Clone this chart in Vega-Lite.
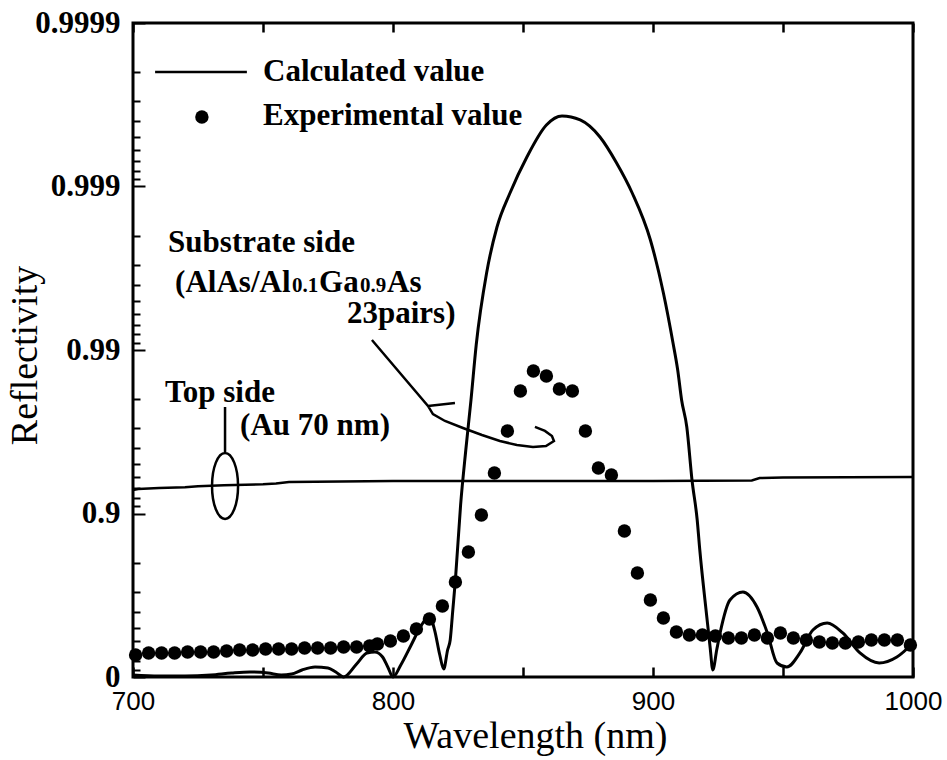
{
  "$schema": "https://vega.github.io/schema/vega-lite/v6.json",
  "width": 780,
  "height": 654,
  "autosize": {"type": "none"},
  "padding": {"left": 133, "top": 23, "right": 34, "bottom": 83},
  "background": "white",
  "config": {
    "view": {"stroke": "black", "strokeWidth": 3},
    "text": {"color": "black"}
  },
  "datasets": {
    "topSide": [
      {"wavelength": 700, "oneMinusR": 0.0718},
      {"wavelength": 702, "oneMinusR": 0.0709},
      {"wavelength": 710, "oneMinusR": 0.0699},
      {"wavelength": 720, "oneMinusR": 0.0690},
      {"wavelength": 725, "oneMinusR": 0.0681},
      {"wavelength": 735, "oneMinusR": 0.0672},
      {"wavelength": 750, "oneMinusR": 0.0663},
      {"wavelength": 755, "oneMinusR": 0.0655},
      {"wavelength": 760, "oneMinusR": 0.0641},
      {"wavelength": 800, "oneMinusR": 0.0632},
      {"wavelength": 850, "oneMinusR": 0.0632},
      {"wavelength": 900, "oneMinusR": 0.0632},
      {"wavelength": 938, "oneMinusR": 0.0628},
      {"wavelength": 941, "oneMinusR": 0.0607},
      {"wavelength": 950, "oneMinusR": 0.0603},
      {"wavelength": 1000, "oneMinusR": 0.0599}
    ],
    "calculated": [
      {"wavelength": 700, "oneMinusR": 0.9722},
      {"wavelength": 710, "oneMinusR": 0.986},
      {"wavelength": 720, "oneMinusR": 0.986},
      {"wavelength": 730, "oneMinusR": 0.9722},
      {"wavelength": 738, "oneMinusR": 0.9453},
      {"wavelength": 745, "oneMinusR": 0.932},
      {"wavelength": 752, "oneMinusR": 0.9453},
      {"wavelength": 757, "oneMinusR": 0.9722},
      {"wavelength": 761, "oneMinusR": 0.9586},
      {"wavelength": 765, "oneMinusR": 0.9061},
      {"wavelength": 770, "oneMinusR": 0.8687},
      {"wavelength": 775, "oneMinusR": 0.8808},
      {"wavelength": 778, "oneMinusR": 0.932},
      {"wavelength": 781, "oneMinusR": 1},
      {"wavelength": 786, "oneMinusR": 0.8326},
      {"wavelength": 790, "oneMinusR": 0.713},
      {"wavelength": 793, "oneMinusR": 0.7031},
      {"wavelength": 796, "oneMinusR": 0.7545},
      {"wavelength": 798, "oneMinusR": 0.8687},
      {"wavelength": 800, "oneMinusR": 1},
      {"wavelength": 803, "oneMinusR": 0.8445},
      {"wavelength": 807, "oneMinusR": 0.637},
      {"wavelength": 811, "oneMinusR": 0.4808},
      {"wavelength": 814, "oneMinusR": 0.4234},
      {"wavelength": 816, "oneMinusR": 0.516},
      {"wavelength": 818, "oneMinusR": 0.7334},
      {"wavelength": 819.5, "oneMinusR": 0.8935},
      {"wavelength": 821, "oneMinusR": 0.6836},
      {"wavelength": 822, "oneMinusR": 0.5937},
      {"wavelength": 823, "oneMinusR": 0.3893},
      {"wavelength": 824, "oneMinusR": 0.2551},
      {"wavelength": 826, "oneMinusR": 0.0887},
      {"wavelength": 828, "oneMinusR": 0.04089},
      {"wavelength": 830, "oneMinusR": 0.02021},
      {"wavelength": 832, "oneMinusR": 0.00932},
      {"wavelength": 836, "oneMinusR": 0.003381},
      {"wavelength": 840, "oneMinusR": 0.001769},
      {"wavelength": 845, "oneMinusR": 0.001096},
      {"wavelength": 851.5, "oneMinusR": 0.00066},
      {"wavelength": 859, "oneMinusR": 0.0004205},
      {"wavelength": 865, "oneMinusR": 0.0003704},
      {"wavelength": 872, "oneMinusR": 0.0003919},
      {"wavelength": 879.6, "oneMinusR": 0.0004981},
      {"wavelength": 886, "oneMinusR": 0.0007183},
      {"wavelength": 892, "oneMinusR": 0.001096},
      {"wavelength": 899, "oneMinusR": 0.002125},
      {"wavelength": 904, "oneMinusR": 0.004481},
      {"wavelength": 907.7, "oneMinusR": 0.009062},
      {"wavelength": 909.5, "oneMinusR": 0.01326},
      {"wavelength": 911, "oneMinusR": 0.02021},
      {"wavelength": 913, "oneMinusR": 0.02958},
      {"wavelength": 915, "oneMinusR": 0.06239},
      {"wavelength": 917, "oneMinusR": 0.1096},
      {"wavelength": 918, "oneMinusR": 0.1672},
      {"wavelength": 920.7, "oneMinusR": 0.4295},
      {"wavelength": 922, "oneMinusR": 0.6646},
      {"wavelength": 923, "oneMinusR": 0.9061},
      {"wavelength": 924.5, "oneMinusR": 0.6836},
      {"wavelength": 925.8, "oneMinusR": 0.538},
      {"wavelength": 929.6, "oneMinusR": 0.3381},
      {"wavelength": 934.6, "oneMinusR": 0.302},
      {"wavelength": 940, "oneMinusR": 0.3732},
      {"wavelength": 944, "oneMinusR": 0.538},
      {"wavelength": 947.7, "oneMinusR": 0.8212},
      {"wavelength": 951.5, "oneMinusR": 0.8687},
      {"wavelength": 956.5, "oneMinusR": 0.713},
      {"wavelength": 961.5, "oneMinusR": 0.516},
      {"wavelength": 967, "oneMinusR": 0.4674},
      {"wavelength": 973, "oneMinusR": 0.538},
      {"wavelength": 979.6, "oneMinusR": 0.713},
      {"wavelength": 987, "oneMinusR": 0.8212},
      {"wavelength": 993.8, "oneMinusR": 0.7545},
      {"wavelength": 1000, "oneMinusR": 0.6195}
    ],
    "experimental": [
      {"wavelength": 701, "oneMinusR": 0.7334},
      {"wavelength": 706, "oneMinusR": 0.713},
      {"wavelength": 711, "oneMinusR": 0.713},
      {"wavelength": 716, "oneMinusR": 0.713},
      {"wavelength": 721, "oneMinusR": 0.7031},
      {"wavelength": 726, "oneMinusR": 0.7031},
      {"wavelength": 731, "oneMinusR": 0.7031},
      {"wavelength": 736, "oneMinusR": 0.6933},
      {"wavelength": 741, "oneMinusR": 0.6836},
      {"wavelength": 746, "oneMinusR": 0.6836},
      {"wavelength": 751, "oneMinusR": 0.674},
      {"wavelength": 756, "oneMinusR": 0.674},
      {"wavelength": 761, "oneMinusR": 0.674},
      {"wavelength": 766, "oneMinusR": 0.6646},
      {"wavelength": 771, "oneMinusR": 0.6646},
      {"wavelength": 776, "oneMinusR": 0.6646},
      {"wavelength": 781, "oneMinusR": 0.6553},
      {"wavelength": 786, "oneMinusR": 0.6553},
      {"wavelength": 791, "oneMinusR": 0.6461},
      {"wavelength": 794, "oneMinusR": 0.6283},
      {"wavelength": 799, "oneMinusR": 0.6024},
      {"wavelength": 804, "oneMinusR": 0.5614},
      {"wavelength": 809, "oneMinusR": 0.5087},
      {"wavelength": 814, "oneMinusR": 0.4417},
      {"wavelength": 819, "oneMinusR": 0.3678},
      {"wavelength": 824, "oneMinusR": 0.2624},
      {"wavelength": 829, "oneMinusR": 0.172},
      {"wavelength": 834, "oneMinusR": 0.1021},
      {"wavelength": 839, "oneMinusR": 0.05652},
      {"wavelength": 844, "oneMinusR": 0.03129},
      {"wavelength": 849, "oneMinusR": 0.01781},
      {"wavelength": 854, "oneMinusR": 0.01344},
      {"wavelength": 859, "oneMinusR": 0.01442},
      {"wavelength": 864, "oneMinusR": 0.01732},
      {"wavelength": 869, "oneMinusR": 0.01781},
      {"wavelength": 874, "oneMinusR": 0.03129},
      {"wavelength": 879, "oneMinusR": 0.05267},
      {"wavelength": 884, "oneMinusR": 0.05814},
      {"wavelength": 889, "oneMinusR": 0.1279},
      {"wavelength": 894, "oneMinusR": 0.2311},
      {"wavelength": 899, "oneMinusR": 0.3381},
      {"wavelength": 904, "oneMinusR": 0.4357},
      {"wavelength": 909, "oneMinusR": 0.5305},
      {"wavelength": 914, "oneMinusR": 0.5533},
      {"wavelength": 919, "oneMinusR": 0.5533},
      {"wavelength": 924, "oneMinusR": 0.5614},
      {"wavelength": 929, "oneMinusR": 0.5772},
      {"wavelength": 934, "oneMinusR": 0.5772},
      {"wavelength": 939, "oneMinusR": 0.5533},
      {"wavelength": 944, "oneMinusR": 0.5772},
      {"wavelength": 949, "oneMinusR": 0.538},
      {"wavelength": 954, "oneMinusR": 0.5772},
      {"wavelength": 959, "oneMinusR": 0.5937},
      {"wavelength": 964, "oneMinusR": 0.6108},
      {"wavelength": 969, "oneMinusR": 0.6195},
      {"wavelength": 974, "oneMinusR": 0.6195},
      {"wavelength": 979, "oneMinusR": 0.6108},
      {"wavelength": 984, "oneMinusR": 0.5937},
      {"wavelength": 989, "oneMinusR": 0.5937},
      {"wavelength": 994, "oneMinusR": 0.5937},
      {"wavelength": 999, "oneMinusR": 0.637}
    ]
  },
  "layer": [
    {
      "data": {"name": "topSide"},
      "mark": {"type": "line", "color": "black", "strokeWidth": 2.5},
      "encoding": {
        "x": {
          "field": "wavelength", "type": "quantitative",
          "scale": {"domain": [700, 1000], "nice": false, "zero": false},
          "axis": {
            "orient": "bottom",
            "values": [700, 750, 800, 850, 900, 950, 1000],
            "format": "d",
            "labelExpr": "datum.value % 100 == 0 ? datum.label : ''",
            "domain": false, "ticks": false, "tickSize": 0,
            "grid": true, "gridColor": "black", "gridOpacity": 1, "gridWidth": 2.5, "gridDash": [10, 2000],
            "labelFont": "Liberation Sans", "labelFontSize": 26, "labelColor": "black",
            "labelPadding": 11, "labelOverlap": false, "labelBound": false, "labelFlush": false,
            "title": "Wavelength (nm)",
            "titleFont": "Liberation Serif", "titleFontSize": 38, "titleFontWeight": "normal", "titleColor": "black",
            "titleX": 402, "titleY": 70, "titleBaseline": "alphabetic"
          }
        },
        "y": {
          "field": "oneMinusR", "type": "quantitative",
          "scale": {"type": "log", "domain": [0.0001, 1], "reverse": true, "nice": false},
          "axis": {
            "orient": "left",
            "values": [1, 0.1, 0.01, 0.001, 0.0001],
            "labelExpr": "datum.value > 0.5 ? '0' : format(1 - datum.value, '.' + round(-log(datum.value)/LN10) + 'f')",
            "domain": false, "ticks": false, "tickSize": 0,
            "grid": true, "gridColor": "black", "gridOpacity": 1, "gridWidth": 2, "gridDash": [12, 2000],
            "labelFont": "Liberation Serif", "labelFontWeight": "bold", "labelFontSize": 31, "labelColor": "black",
            "labelPadding": 13, "labelBaseline": "middle", "labelOverlap": false, "labelBound": false, "labelFlush": false,
            "title": "Reflectivity",
            "titleFont": "Liberation Serif", "titleFontSize": 38, "titleFontWeight": "normal", "titleColor": "black",
            "titleX": -108, "titleY": 332, "titleBaseline": "middle"
          }
        }
      }
    },
    {
      "data": {"name": "calculated"},
      "mark": {"type": "line", "color": "black", "strokeWidth": 3, "interpolate": "monotone"},
      "encoding": {
        "x": {
          "field": "wavelength", "type": "quantitative",
          "axis": {
            "orient": "top",
            "values": [700, 750, 800, 850, 900, 950, 1000],
            "labels": false, "domain": false, "ticks": false, "title": null,
            "grid": true, "gridColor": "black", "gridOpacity": 1, "gridWidth": 2.5, "gridDash": [9, 2000]
          }
        },
        "y": {
          "field": "oneMinusR", "type": "quantitative",
          "axis": {
            "orient": "left",
            "values": [0.9, 0.8, 0.7, 0.6, 0.5, 0.4, 0.3, 0.2, 0.09, 0.08, 0.07, 0.06, 0.05, 0.04, 0.03, 0.02, 0.009, 0.008, 0.007, 0.006, 0.005, 0.004, 0.003, 0.002, 0.0009, 0.0008, 0.0007, 0.0006, 0.0005, 0.0004, 0.0003, 0.0002],
            "labels": false, "domain": false, "ticks": false, "title": null,
            "grid": true, "gridColor": "black", "gridOpacity": 1, "gridWidth": 2, "gridDash": [7, 2000]
          }
        }
      }
    },
    {
      "data": {"name": "experimental"},
      "mark": {"type": "point", "filled": true, "color": "black", "size": 180, "opacity": 1},
      "encoding": {
        "x": {"field": "wavelength", "type": "quantitative", "axis": null},
        "y": {"field": "oneMinusR", "type": "quantitative", "axis": null}
      }
    },
    {
      "data": {"values": [{}]},
      "mark": {"type": "rule", "color": "black", "strokeWidth": 2.5},
      "encoding": {
        "x": {"datum": 708.5, "type": "quantitative", "axis": null},
        "x2": {"datum": 743.8},
        "y": {"datum": 0.0001995, "type": "quantitative", "axis": null}
      }
    },
    {
      "data": {"values": [{}]},
      "mark": {"type": "point", "filled": true, "color": "black", "size": 180, "opacity": 1},
      "encoding": {
        "x": {"datum": 726.5, "type": "quantitative", "axis": null},
        "y": {"datum": 0.000376, "type": "quantitative", "axis": null}
      }
    },
    {
      "data": {"values": [
        {"label": "Calculated value", "wavelength": 750, "oneMinusR": 0.0002263},
        {"label": "Experimental value", "wavelength": 750, "oneMinusR": 0.0004205},
        {"label": "Substrate side", "wavelength": 713.5, "oneMinusR": 0.00252},
        {"label": "23pairs)", "wavelength": 782.3, "oneMinusR": 0.00684},
        {"label": "Top side", "wavelength": 712.3, "oneMinusR": 0.0208},
        {"label": "(Au 70 nm)", "wavelength": 741.2, "oneMinusR": 0.0331}
      ]},
      "mark": {"type": "text", "font": "Liberation Serif", "fontSize": 31, "fontWeight": "bold", "align": "left", "baseline": "alphabetic", "color": "black"},
      "encoding": {
        "x": {"field": "wavelength", "type": "quantitative", "axis": null},
        "y": {"field": "oneMinusR", "type": "quantitative", "axis": null},
        "text": {"field": "label"}
      }
    },
    {
      "data": {"values": [{"label": "(AlAs/Al"}]},
      "mark": {"type": "text", "font": "Liberation Serif", "fontSize": 31, "fontWeight": "bold", "align": "left", "baseline": "alphabetic", "color": "black", "dx": 0},
      "encoding": {
        "x": {"datum": 716.2, "type": "quantitative", "axis": null},
        "y": {"datum": 0.00442, "type": "quantitative", "axis": null},
        "text": {"field": "label"}
      }
    },
    {
      "data": {"values": [{"label": "0.1"}]},
      "mark": {"type": "text", "font": "Liberation Serif", "fontSize": 21, "fontWeight": "bold", "align": "left", "baseline": "alphabetic", "color": "black", "dx": 117},
      "encoding": {
        "x": {"datum": 716.2, "type": "quantitative", "axis": null},
        "y": {"datum": 0.00442, "type": "quantitative", "axis": null},
        "text": {"field": "label"}
      }
    },
    {
      "data": {"values": [{"label": "Ga"}]},
      "mark": {"type": "text", "font": "Liberation Serif", "fontSize": 31, "fontWeight": "bold", "align": "left", "baseline": "alphabetic", "color": "black", "dx": 144},
      "encoding": {
        "x": {"datum": 716.2, "type": "quantitative", "axis": null},
        "y": {"datum": 0.00442, "type": "quantitative", "axis": null},
        "text": {"field": "label"}
      }
    },
    {
      "data": {"values": [{"label": "0.9"}]},
      "mark": {"type": "text", "font": "Liberation Serif", "fontSize": 21, "fontWeight": "bold", "align": "left", "baseline": "alphabetic", "color": "black", "dx": 185},
      "encoding": {
        "x": {"datum": 716.2, "type": "quantitative", "axis": null},
        "y": {"datum": 0.00442, "type": "quantitative", "axis": null},
        "text": {"field": "label"}
      }
    },
    {
      "data": {"values": [{"label": "As"}]},
      "mark": {"type": "text", "font": "Liberation Serif", "fontSize": 31, "fontWeight": "bold", "align": "left", "baseline": "alphabetic", "color": "black", "dx": 212},
      "encoding": {
        "x": {"datum": 716.2, "type": "quantitative", "axis": null},
        "y": {"datum": 0.00442, "type": "quantitative", "axis": null},
        "text": {"field": "label"}
      }
    },
    {
      "data": {"values": [{}]},
      "mark": {"type": "point", "filled": false, "color": "black", "strokeWidth": 2.5, "opacity": 1, "size": 14400,
        "shape": "M 0 -0.933 L 0 -0.167 C 0.12 -0.167 0.217 0.079 0.217 0.383 C 0.217 0.687 0.12 0.933 0 0.933 C -0.12 0.933 -0.217 0.687 -0.217 0.383 C -0.217 0.079 -0.12 -0.167 0 -0.167"},
      "encoding": {
        "x": {"datum": 735.4, "type": "quantitative", "axis": null},
        "y": {"datum": 0.0491, "type": "quantitative", "axis": null}
      }
    },
    {
      "data": {"values": [{}]},
      "mark": {"type": "point", "filled": false, "color": "black", "strokeWidth": 2.5, "opacity": 1, "size": 36100,
        "shape": "M -0.958 -0.568 L -0.368 0.126 L -0.316 0.211 L -0.189 0.284 L 0 0.358 L 0.2 0.432 L 0.389 0.495 L 0.568 0.537 L 0.737 0.558 L 0.874 0.547 L 0.958 0.495 L 0.937 0.442 L 0.863 0.389 L 0.758 0.347 M -0.368 0.126 L -0.084 0.095"},
      "encoding": {
        "x": {"datum": 826.9, "type": "quantitative", "axis": null},
        "y": {"datum": 0.01858, "type": "quantitative", "axis": null}
      }
    }
  ],
  "resolve": {"axis": {"x": "independent", "y": "independent"}}
}
